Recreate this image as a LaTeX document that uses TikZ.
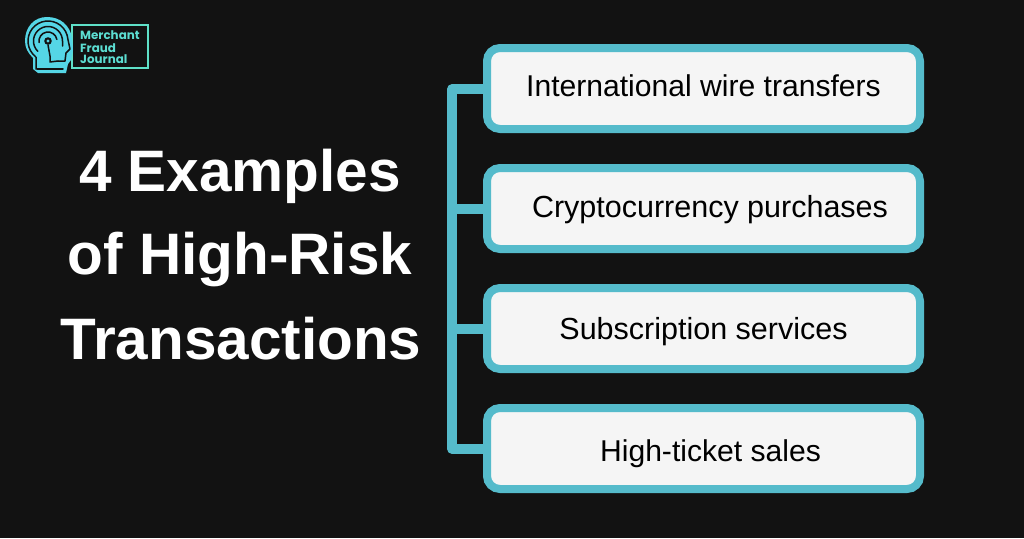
\documentclass[tikz,border=0pt]{standalone}
\usepackage{fontspec}
\setmainfont{Liberation Sans}
\newfontfamily\logofont{Poppins}
\definecolor{bg}{HTML}{121212}
\definecolor{teal1}{HTML}{55BBCB}
\definecolor{boxfill}{HTML}{F5F5F5}
\definecolor{logoC}{HTML}{55D6E6}
\definecolor{logoG}{HTML}{5FE0C8}
\tikzset{
  itembox/.style={draw=teal1,line width=8pt,fill=boxfill,rounded corners=13pt,minimum width=433pt,minimum height=81pt,inner sep=0pt,outer sep=0pt,anchor=north west},
  itemtext/.style={font=\fontsize{30.1}{33}\selectfont,text=black,inner sep=0pt,anchor=base},
  itemwide/.style={itemtext,font=\fontsize{30.5}{33}\selectfont},
  titletext/.style={font=\fontsize{58.5}{64}\selectfont\bfseries,text=white,inner sep=0pt,anchor=base},
  conn/.style={draw=teal1,line width=9.5pt,line join=round},
  logotext/.style={font=\logofont\fontsize{11.9}{13}\selectfont\bfseries,text=logoG!70!logoC,inner sep=0pt,anchor=base west},
  headline/.style={draw=bg,line width=1.5pt,line cap=round,line join=round},
}
\begin{document}
\begin{tikzpicture}[x=1pt,y=-1pt]
\useasboundingbox (0,0) rectangle (1024,538);
\fill[bg] (0,0) rectangle (1024,538);
\coordinate (t1) at (452,89);
\coordinate (t2) at (452,209);
\coordinate (t3) at (452,329);
\coordinate (t4) at (452,449);
\coordinate (e1) at (487,89);
\coordinate (e2) at (487,209);
\coordinate (e3) at (487,329);
\coordinate (e4) at (487,449);
\draw[conn] (e1) -- (t1) -- (t4) -- (e4);
\draw[conn] (t2) -- (e2);
\draw[conn] (t3) -- (e3);
\node[itembox] (b1) at (487,48) {};
\node[itembox] (b2) at (487,168) {};
\node[itembox] (b3) at (487,288) {};
\node[itembox] (b4) at (487,408) {};
\node[itemtext] (l1) at (703.5,96) {International wire transfers};
\node[itemwide] (l2) at (710,217) {Cryptocurrency purchases};
\node[itemwide] (l3) at (703.5,339) {Subscription services};
\node[itemtext] (l4) at (710.5,461) {High-ticket sales};
\node[titletext] (h1) at (240,191.5) {4 Examples};
\node[titletext] (h2) at (240,274.5) {of High-Risk};
\node[titletext] (h3) at (241,359.5) {Transactions};
% logo
\draw[draw=logoG,line width=2pt] (72,25) rectangle (148,68);
\node[logotext] (m1) at (80,39.5) {Merchant};
\node[logotext] (m2) at (80,52) {Fraud};
\node[logotext] (m3) at (80,63.5) {Journal};
\fill[logoC] (47,17) .. controls (34,17) and (25,27) .. (25,41) .. controls (25,48) and (28,53) .. (33,58) -- (33,69) -- (38,73) -- (66,73) -- (68,64) -- (71,60) -- (73,50) -- (72,38) .. controls (70,25) and (60,17) .. (47,17) -- cycle;
\draw[headline] (36,69) -- (36,57) (48,41) ++(128:20) arc[start angle=128,end angle=355,radius=20] -- (70,49) -- (66,53) -- (65,61) -- (58,61);
\draw[headline] (48,41) ++(135:14.5) arc[start angle=135,end angle=360,radius=14.5] -- (62.5,46);
\draw[headline] (48,41) ++(170:9) arc[start angle=170,end angle=350,radius=9];
\draw[headline] (37,69) -- (63,69);
\draw[headline] (48,45) -- (50,56) -- (50,62) -- (58,61);
\fill[bg] (48,41) circle (3.8pt);
\fill[logoC] (48,41) circle (1.6pt);
\end{tikzpicture}
\end{document}
